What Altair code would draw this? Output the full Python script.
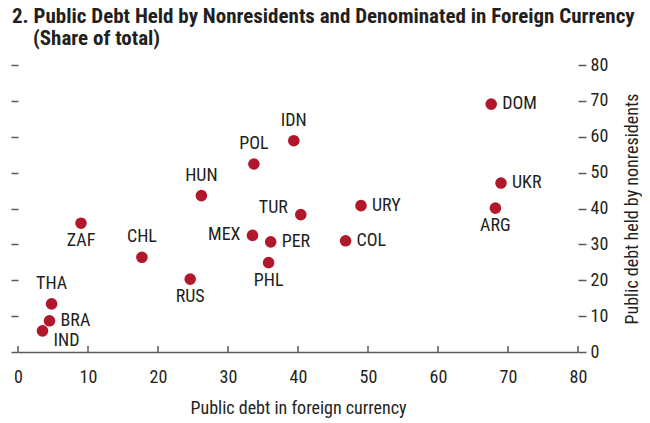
import altair as alt
import pandas as pd

countries = ["DOM", "UKR", "ARG", "IDN", "POL", "HUN", "TUR", "URY", "MEX",
             "PER", "COL", "PHL", "RUS", "ZAF", "CHL", "THA", "BRA", "IND"]
foreign_currency = [67.6, 69.0, 68.2, 39.4, 33.7, 26.2, 40.4, 49.0, 33.5,
                    36.1, 46.8, 35.8, 24.6, 9.0, 17.7, 4.8, 4.5, 3.5]
nonresidents = [69.1, 47.1, 40.1, 58.9, 52.4, 43.6, 38.3, 40.8, 32.5,
                30.7, 31.0, 24.9, 20.3, 35.9, 26.4, 13.4, 8.7, 5.9]
label_side = ["right", "right", "below", "above", "above", "above", "upperleft", "right", "left",
              "right", "right", "below", "below", "below", "above", "above", "right", "lowerright"]
x_ticks = [0, 10, 20, 30, 40, 50, 60, 70, 80]
y_ticks = [0, 10, 20, 30, 40, 50, 60, 70, 80]
title_line1 = ["2. Public Debt Held by Nonresidents and Denominated in Foreign Currency"]
title_line2 = ["(Share of total)"]

FONT = "Liberation Sans Narrow, Arial Narrow, Roboto Condensed, DejaVu Sans Condensed, sans-serif"
RED = "#B2182B"
TXT = "#231F20"
AX = "#5a5a5a"
W, H = 560, 287

df = pd.DataFrame({"country": countries, "fc": foreign_currency,
                   "nr": nonresidents, "side": label_side})
ticks_df = pd.DataFrame({"t": x_ticks})

xscale = alt.Scale(domain=[0, 80], nice=False, zero=False)
yscale = alt.Scale(domain=[0, 80], nice=False, zero=False)

points = alt.Chart(df).mark_circle(size=135, color=RED, opacity=1).encode(
    x=alt.X("fc:Q", scale=xscale,
            axis=alt.Axis(values=x_ticks, title="Public debt in foreign currency",
                          ticks=False, grid=False, domainColor=AX, domainWidth=1.5,
                          labelFlush=False, labelOverlap=False,
                          labelFont=FONT, labelFontSize=18, labelColor=TXT, labelPadding=16,
                          titleFont=FONT, titleFontSize=18, titleFontWeight="normal",
                          titleColor=TXT, titlePadding=13)),
    y=alt.Y("nr:Q", scale=yscale,
            axis=alt.Axis(orient="right", values=y_ticks, tickSize=8, tickColor=AX,
                          tickWidth=1.5, domain=False, grid=False,
                          labelFlush=False, labelOverlap=False,
                          labelFont=FONT, labelFontSize=18, labelColor=TXT, labelPadding=4,
                          title="Public debt held by nonresidents", titleAngle=270,
                          titleFont=FONT, titleFontSize=18, titleFontWeight="normal",
                          titleColor=TXT, titleX=54, titleY=H / 2,
                          titleAlign="center", titleBaseline="middle")),
)

left_axis = alt.Chart(df).mark_circle(opacity=0).encode(
    x=alt.X("fc:Q", scale=xscale, axis=None),
    y=alt.Y("nr:Q", scale=yscale,
            axis=alt.Axis(orient="left", values=y_ticks, tickSize=7, tickColor=AX,
                          tickWidth=1.5, domain=False, grid=False, labels=False, title="")),
)

xtick_rules = alt.Chart(ticks_df).mark_rule(color=AX, strokeWidth=1.5).encode(
    x=alt.X("t:Q", scale=xscale, axis=None),
    y=alt.value(H),
    y2=alt.value(H - 6),
)

title1 = alt.Chart(pd.DataFrame({"s": title_line1})).mark_text(
    font=FONT, fontSize=21, fontWeight="bold", color=TXT,
    align="left", baseline="alphabetic"
).encode(x=alt.value(-6), y=alt.value(-42), text="s:N")

title2 = alt.Chart(pd.DataFrame({"s": title_line2})).mark_text(
    font=FONT, fontSize=21, fontWeight="bold", color=TXT,
    align="left", baseline="alphabetic"
).encode(x=alt.value(15), y=alt.value(-20), text="s:N")

placements = {
    "right": dict(align="left", dx=11, dy=0),
    "left": dict(align="right", dx=-12, dy=0),
    "above": dict(align="center", dx=0, dy=-20),
    "below": dict(align="center", dx=0, dy=18),
    "upperleft": dict(align="right", dx=-13, dy=-7),
    "lowerright": dict(align="left", dx=11, dy=10),
}

label_layers = []
for side, p in placements.items():
    label_layers.append(
        alt.Chart(df).transform_filter(alt.datum.side == side).mark_text(
            font=FONT, fontSize=18, color=TXT, baseline="middle", **p
        ).encode(
            x=alt.X("fc:Q", scale=xscale, axis=None),
            y=alt.Y("nr:Q", scale=yscale, axis=None),
            text="country:N",
        )
    )

chart = alt.layer(points, left_axis, xtick_rules, title1, title2, *label_layers).resolve_axis(
    x="independent", y="independent"
).properties(
    width=W, height=H,
    autosize=alt.AutoSizeParams(type="none"),
    padding={"left": 10, "top": 57, "right": 64, "bottom": 70},
).configure_view(strokeWidth=0)

chart.save("out.html", embed_options={"renderer": "svg", "actions": False})
